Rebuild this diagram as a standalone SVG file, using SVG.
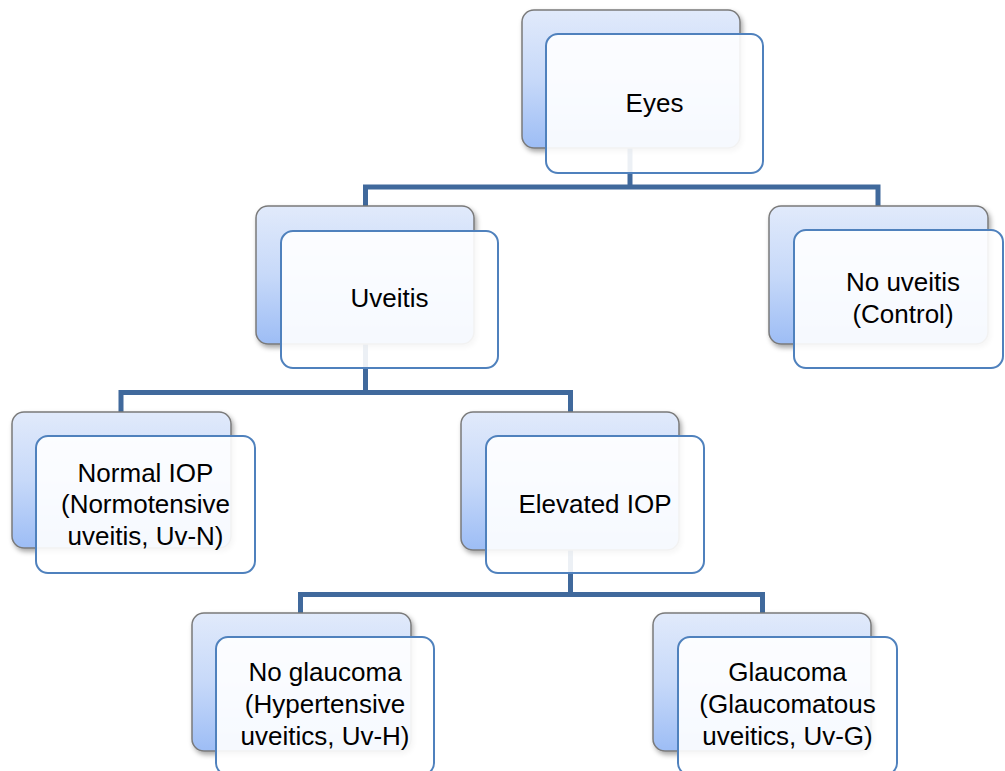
<svg xmlns="http://www.w3.org/2000/svg" width="1005" height="771" viewBox="0 0 1005 771">
<defs>
<linearGradient id="bg" x1="0" y1="0" x2="0" y2="1">
<stop offset="0" stop-color="#e1eafb"/>
<stop offset="0.5" stop-color="#c7d9f9"/>
<stop offset="1" stop-color="#9dbdf5"/>
</linearGradient>
<filter id="sh" x="-10%" y="-10%" width="125%" height="130%">
<feDropShadow dx="2" dy="3" stdDeviation="2.5" flood-color="#000" flood-opacity="0.35"/>
</filter>
<style>
.back{fill:url(#bg);stroke:#7a7a7a;stroke-width:1.5;filter:url(#sh)}
.front{fill:#ffffff;fill-opacity:0.9;stroke:#4f81bd;stroke-width:2}
.conn{fill:none;stroke:#40699c;stroke-width:5;stroke-linejoin:miter;stroke-linecap:butt}
text{font-family:"Liberation Sans",Arial,sans-serif;font-size:26px;fill:#000;text-anchor:middle}
</style>
</defs>
<rect width="1005" height="771" fill="#ffffff"/>
<g id="connectors">
<path class="conn" d="M630,148 V187"/>
<path class="conn" d="M365.5,206 V187 H878 V206"/>
<path class="conn" d="M365.5,344 V392.5"/>
<path class="conn" d="M121,412 V392.5 H570.5 V412"/>
<path class="conn" d="M570.5,550 V594.5"/>
<path class="conn" d="M300.5,613 V594.5 H762.5 V613"/>
</g>
<g id="node-eyes">
<rect class="back" x="522" y="10" width="218" height="138" rx="12"/>
<rect class="front" x="546" y="34" width="217" height="139" rx="12"/>
<text x="654.5" y="112">Eyes</text>
</g>
<g id="node-uveitis">
<rect class="back" x="256" y="206" width="218" height="138" rx="12"/>
<rect class="front" x="281" y="231" width="217" height="137" rx="12"/>
<text x="389.5" y="307">Uveitis</text>
</g>
<g id="node-no-uveitis">
<rect class="back" x="769" y="206" width="219" height="138" rx="12"/>
<rect class="front" x="794" y="230" width="209" height="138" rx="12"/>
<text x="903" y="291">No uveitis</text>
<text x="903" y="323">(Control)</text>
</g>
<g id="node-normal-iop">
<rect class="back" x="12" y="412" width="219" height="136" rx="12"/>
<rect class="front" x="36" y="436" width="219" height="137" rx="12"/>
<text x="145.5" y="482">Normal IOP</text>
<text x="145.5" y="513">(Normotensive</text>
<text x="145.5" y="545">uveitis, Uv-N)</text>
</g>
<g id="node-elevated-iop">
<rect class="back" x="461" y="412" width="218" height="138" rx="12"/>
<rect class="front" x="486" y="436" width="218" height="137" rx="12"/>
<text x="595" y="513">Elevated IOP</text>
</g>
<g id="node-no-glaucoma">
<rect class="back" x="192" y="613" width="219" height="138" rx="12"/>
<rect class="front" x="216" y="637" width="218" height="138" rx="12"/>
<text x="325" y="681">No glaucoma</text>
<text x="325" y="713">(Hypertensive</text>
<text x="325" y="745">uveitics, Uv-H)</text>
</g>
<g id="node-glaucoma">
<rect class="back" x="653" y="613" width="218" height="138" rx="12"/>
<rect class="front" x="678" y="637" width="219" height="138" rx="12"/>
<text x="787.5" y="681">Glaucoma</text>
<text x="787.5" y="713">(Glaucomatous</text>
<text x="787.5" y="745">uveitics, Uv-G)</text>
</g>
</svg>
